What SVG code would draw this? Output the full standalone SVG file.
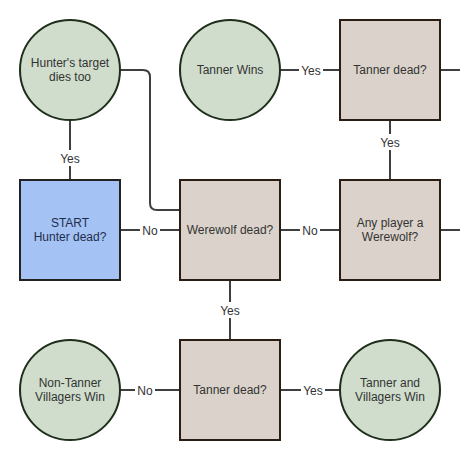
<svg xmlns="http://www.w3.org/2000/svg" width="460" height="460" viewBox="0 0 460 460">
<style>
.c{fill:#d0ddcc;stroke:#1e2e1a;stroke-width:2}
.r{fill:#dbd3cb;stroke:#2a1d14;stroke-width:2}
.s{fill:#a4c2f4;stroke:#222;stroke-width:2}
.l{fill:none;stroke:#3f3f3f;stroke-width:2}
text{font-family:"Liberation Sans",Arial,sans-serif;font-size:12px;fill:#333;text-anchor:middle}
.st{fill:#1f2d4d}
.lb{fill:#333}
.bg{fill:#fff}
</style>
<rect width="460" height="460" fill="#fff"/>
<g id="connectors">
<path class="l" d="M70,120 V180"/>
<path class="l" d="M120,70 H143 Q150,70 150,77 V203 Q150,210 157,210 H180"/>
<path class="l" d="M120,230 H180"/>
<path class="l" d="M280,230 H340"/>
<path class="l" d="M280,70 H340"/>
<path class="l" d="M390,120 V180"/>
<path class="l" d="M440,70 H460"/>
<path class="l" d="M440,230 H460"/>
<path class="l" d="M230,280 V340"/>
<path class="l" d="M120,390 H180"/>
<path class="l" d="M280,390 H340"/>
<rect class="bg" x="58" y="150" width="24" height="16"/>
<text class="lb" x="70" y="163">Yes</text>
<rect class="bg" x="140" y="222" width="20" height="16"/>
<text class="lb" x="150" y="235">No</text>
<rect class="bg" x="300" y="222" width="20" height="16"/>
<text class="lb" x="310" y="235">No</text>
<rect class="bg" x="299" y="62" width="24" height="16"/>
<text class="lb" x="311" y="75">Yes</text>
<rect class="bg" x="378" y="134" width="24" height="16"/>
<text class="lb" x="390" y="147">Yes</text>
<rect class="bg" x="218" y="302" width="24" height="16"/>
<text class="lb" x="230" y="315">Yes</text>
<rect class="bg" x="135" y="382" width="20" height="16"/>
<text class="lb" x="145" y="395">No</text>
<rect class="bg" x="301" y="382" width="24" height="16"/>
<text class="lb" x="313" y="395">Yes</text>
</g>
<g id="hunters-target">
<circle class="c" cx="70" cy="70" r="50"/>
<text x="70" y="67">Hunter's target</text>
<text x="70" y="81">dies too</text>
</g>
<g id="tanner-wins">
<circle class="c" cx="230" cy="70" r="50"/>
<text x="230" y="74">Tanner Wins</text>
</g>
<g id="tanner-dead-top">
<rect class="r" x="340" y="20" width="100" height="100"/>
<text x="390" y="74">Tanner dead?</text>
</g>
<g id="start">
<rect class="s" x="20" y="180" width="100" height="100"/>
<text class="st" x="70" y="227">START</text>
<text class="st" x="70" y="241">Hunter dead?</text>
</g>
<g id="werewolf-dead">
<rect class="r" x="180" y="180" width="100" height="100"/>
<text x="230" y="234">Werewolf dead?</text>
</g>
<g id="any-player">
<rect class="r" x="340" y="180" width="100" height="100"/>
<text x="390" y="227">Any player a</text>
<text x="390" y="241">Werewolf?</text>
</g>
<g id="non-tanner">
<circle class="c" cx="70" cy="390" r="50"/>
<text x="70" y="387">Non-Tanner</text>
<text x="70" y="401">Villagers Win</text>
</g>
<g id="tanner-dead-bottom">
<rect class="r" x="180" y="340" width="100" height="100"/>
<text x="230" y="394">Tanner dead?</text>
</g>
<g id="tanner-villagers">
<circle class="c" cx="390" cy="390" r="50"/>
<text x="390" y="387">Tanner and</text>
<text x="390" y="401">Villagers Win</text>
</g>
</svg>
